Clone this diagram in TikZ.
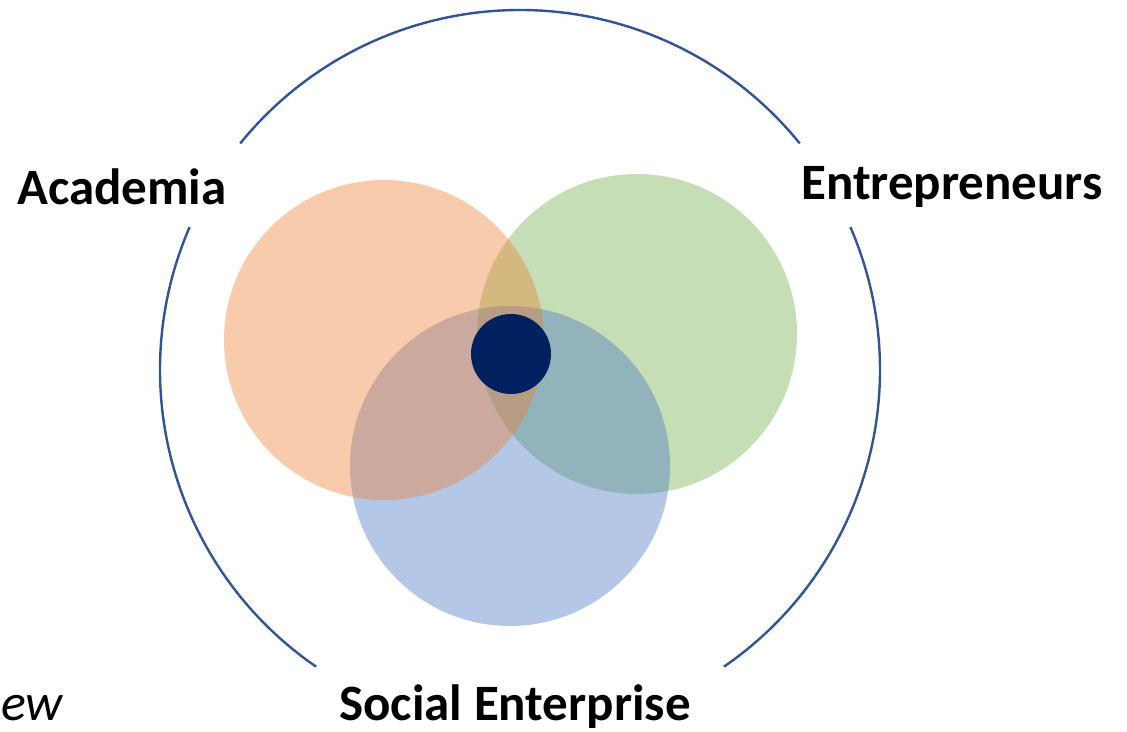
\documentclass[tikz,border=0pt]{standalone}
\usepackage{fontspec}
\setmainfont{Carlito}
\usepackage{tikz}
\usetikzlibrary{positioning,calc}
\definecolor{ringblue}{RGB}{47,85,151}
\definecolor{acadorange}{RGB}{237,125,49}
\definecolor{entgreen}{RGB}{112,173,71}
\definecolor{socblue}{RGB}{68,114,196}
\definecolor{corenavy}{RGB}{0,32,96}

\begin{document}
\begin{tikzpicture}[x=1pt, y=1pt,
    sector/.style={fill opacity=0.4},
    group/.style={font=\fontsize{51}{60}\selectfont\bfseries, inner sep=0pt}]
    \useasboundingbox (0,0) rectangle (1127,731);

    % outer ring, broken where the labels sit
    \coordinate (ring) at (520,361);
    \draw[ringblue, line width=2.4pt] ($(ring)+(39:360)$) arc[start angle=39, end angle=141, radius=360];
    \draw[ringblue, line width=2.4pt] ($(ring)+(156.6:360)$) arc[start angle=156.6, end angle=235.5, radius=360];
    \draw[ringblue, line width=2.4pt] ($(ring)+(-55.5:360)$) arc[start angle=-55.5, end angle=23.4, radius=360];

    % the three overlapping sets (green at the back, orange in front)
    \fill[entgreen, sector] (637,397) circle (160);
    \fill[socblue, sector] (510,265) circle (160);
    \fill[acadorange, sector] (384,391) circle (160);
    \fill[corenavy] (511,377) circle (40);

    \node[group] (acad) at (122,544) {Academia};
    \node[group] (entr) at (952,544) {Entrepreneurs};
    \node[group, anchor=base] (soc) at (515,11) {Social Enterprise};
    \node[font=\fontsize{52}{60}\selectfont\itshape, inner sep=0pt, anchor=base west] (rest) at (1,11) {ew};
\end{tikzpicture}
\end{document}
